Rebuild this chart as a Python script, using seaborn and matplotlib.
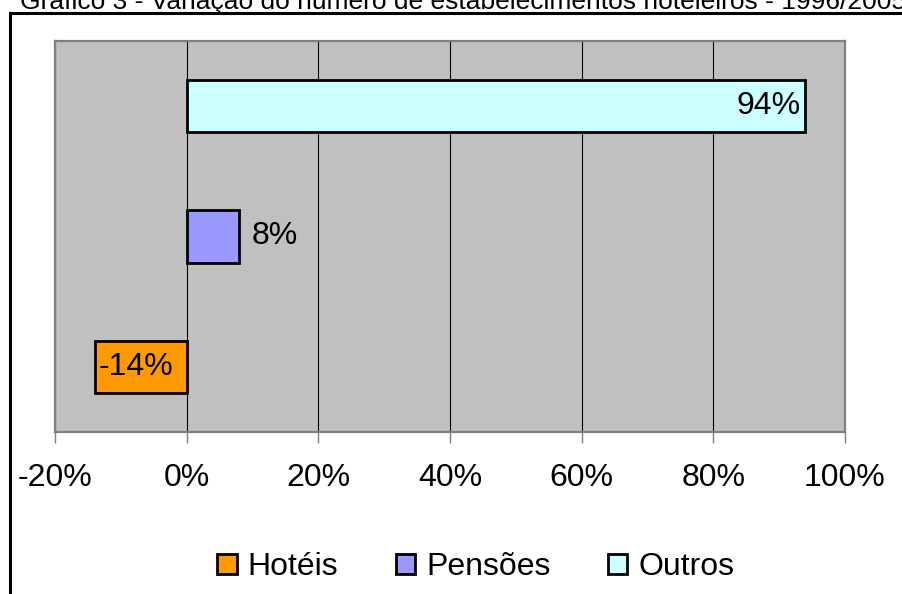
import matplotlib
matplotlib.use("Agg")
import matplotlib.pyplot as plt
import matplotlib.patches as mpatches
from matplotlib.ticker import FuncFormatter
import pandas as pd
import seaborn as sns

# dados
tipos = ['Outros', 'Pensões', 'Hotéis']
variacao = [94, 8, -14]
cores = {'Hotéis': '#FF9900', 'Pensões': '#9999FF', 'Outros': '#CCFFFF'}
ordem_legenda = ['Hotéis', 'Pensões', 'Outros']
xticks = [-20, 0, 20, 40, 60, 80, 100]
titulo = 'Gráfico 3 - Variação do número de estabelecimentos hoteleiros - 1996/2005'

df = pd.DataFrame({'tipo': tipos, 'variacao': variacao})

sns.set_style('white')
plt.rcParams['font.family'] = ['Liberation Sans', 'DejaVu Sans']
plt.rcParams['text.color'] = 'black'
plt.rcParams['xtick.color'] = 'black'

fig = plt.figure(figsize=(9.02, 5.94), dpi=100)
W, H = 902, 594

# moldura do gráfico (cortada à direita e em baixo, como no original)
fig.patches.append(mpatches.Rectangle((10 / W, -0.1), 1.2, 1.1 - 13 / H,
                                      transform=fig.transFigure, fill=False,
                                      edgecolor='black', linewidth=2.2))
fig.text(20 / W, 1 - 9 / H, titulo, fontsize=19, ha='left', va='baseline')

ax = fig.add_axes([55 / W, 1 - 432 / H, 790 / W, 391 / H])
ax.set_facecolor('#C0C0C0')

sns.barplot(data=df, x='variacao', y='tipo', hue='tipo', order=tipos,
            palette=cores, saturation=1, width=0.4, edgecolor='black',
            linewidth=2, orient='h', legend=False, ax=ax, zorder=3)

ax.set_xlim(-20, 100)
ax.set_xticks(xticks)
ax.xaxis.set_major_formatter(FuncFormatter(lambda v, p: f'{v:.0f}%'))
ax.grid(axis='x', color='black', linewidth=0.8, zorder=1)
ax.set_axisbelow(True)
ax.set_yticks([])
ax.set_xlabel('')
ax.set_ylabel('')
ax.tick_params(axis='x', length=8, width=1, color='#808080', labelsize=23,
               labelcolor='black', pad=14, bottom=True)
for s in ax.spines.values():
    s.set_color('#808080')
    s.set_linewidth(1.6)

# rótulos dos valores
for i, v in enumerate(variacao):
    if v > 50:
        ax.text(v - 0.7, i, f'{v}%', ha='right', va='center', fontsize=23,
                color='black', zorder=4)
    elif v > 0:
        ax.text(v + 1.9, i, f'{v}%', ha='left', va='center', fontsize=23,
                color='black', zorder=4)
    else:
        ax.text(v + 0.6, i, f'{v}%', ha='left', va='center', fontsize=23,
                color='black', zorder=4)

handles = [mpatches.Patch(facecolor=cores[t], edgecolor='black', linewidth=2, label=t)
           for t in ordem_legenda]
fig.legend(handles=handles, loc='center', bbox_to_anchor=(476 / W, 1 - 567 / H),
           ncol=3, frameon=False, fontsize=23, handlelength=0.6, handleheight=0.6,
           handletextpad=0.35, columnspacing=1.8, borderaxespad=0,
           labelcolor='black')

fig.savefig('out.png', dpi=100)
